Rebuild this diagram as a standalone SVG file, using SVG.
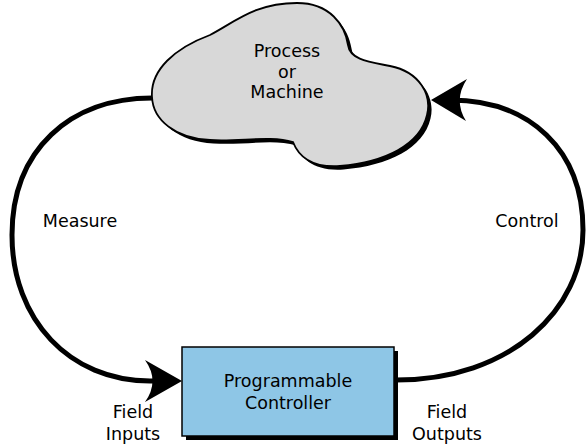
<svg xmlns="http://www.w3.org/2000/svg" width="588" height="444" viewBox="0 0 588 444">
<style>
text{font-family:"DejaVu Sans","Liberation Sans",sans-serif;font-size:17.5px;fill:#000;text-anchor:middle}
.conn{fill:none;stroke:#000;stroke-width:5}
.head{fill:#000;stroke:none}
</style>
<defs>
<path id="cloudShape" d="M 152 97 C 150 70 175 48 210 35 C 235 22 255 3 297 3 C 330 3 345 25 348 45 C 350 60 370 62 390 66 C 420 72 432 95 427 115 C 420 145 385 162 340 166 C 310 168 298 155 293 142 C 270 135 240 142 210 140 C 175 138 153 120 152 97 Z"/>
</defs>
<rect width="588" height="444" fill="#fff"/>
<g id="connectors">
<path class="conn" d="M 152 98 C 70 98 12 150 12 235 C 12 320 70 381 150 381 L 165 381"/>
<path class="head" d="M 182 381 L 145 360 Q 160 381 145 402 Z"/>
<path class="conn" d="M 396 380 C 510 380 583 310 583 230 C 583 150 530 100 450 100"/>
<path class="head" d="M 431 100 L 467 79 Q 453 100 466 121 Z"/>
<text x="80" y="227">Measure</text>
<text x="527" y="227">Control</text>
</g>
<g id="process">
<use href="#cloudShape" transform="translate(3.5,3.5)" fill="#000"/>
<use href="#cloudShape" fill="#d8d8d8" stroke="#000" stroke-width="1.8"/>
<text x="287" y="57">Process</text>
<text x="287" y="77.5">or</text>
<text x="287" y="98">Machine</text>
</g>
<g id="controller">
<rect x="186" y="351" width="212" height="89" fill="#000"/>
<rect x="182" y="347" width="212" height="89" fill="#8ec6e6" stroke="#000" stroke-width="1.5"/>
<text x="288" y="387">Programmable</text>
<text x="288" y="409">Controller</text>
</g>
<g id="field-inputs">
<text x="133" y="418">Field</text>
<text x="133" y="440">Inputs</text>
</g>
<g id="field-outputs">
<text x="447" y="418">Field</text>
<text x="447" y="440">Outputs</text>
</g>
</svg>
